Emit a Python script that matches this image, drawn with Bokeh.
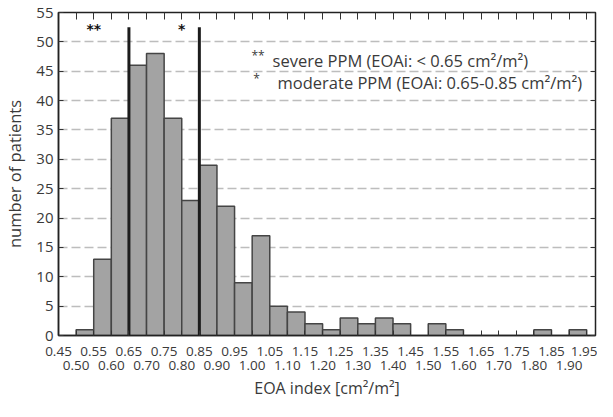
from bokeh.plotting import figure
from bokeh.models import Range1d, FixedTicker, LinearAxis, PrintfTickFormatter, Label, ColumnDataSource
from bokeh.core.properties import value
from bokeh.embed import file_html
from bokeh.resources import INLINE

# ---- data ----
bin_left = [0.45, 0.50, 0.55, 0.60, 0.65, 0.70, 0.75, 0.80, 0.85, 0.90,
            0.95, 1.00, 1.05, 1.10, 1.15, 1.20, 1.25, 1.30, 1.35, 1.40,
            1.45, 1.50, 1.55, 1.60, 1.65, 1.70, 1.75, 1.80, 1.85, 1.90]
counts = [0, 1, 13, 37, 46, 48, 37, 23, 29, 22,
          9, 17, 5, 4, 2, 1, 3, 2, 3, 2,
          0, 2, 1, 0, 0, 0, 0, 1, 0, 1]
bin_width = 0.05
thresholds = [0.65, 0.85]
threshold_top = 52.5
star_x = [0.55, 0.80]
star_text = ["**", "*"]
star_y = [52.2, 52.2]
legend_marks = ["**", "*"]
legend_mark_x = [0.998, 1.003]
legend_texts = ["severe PPM (EOAi: < 0.65 cm²/m²)",
                "moderate PPM (EOAi: 0.65-0.85 cm²/m²)"]
legend_text_x = [1.058, 1.072]
legend_y = [46.9, 43.1]
x_ticks_row1 = [0.45, 0.55, 0.65, 0.75, 0.85, 0.95, 1.05, 1.15, 1.25, 1.35, 1.45,
                1.55, 1.65, 1.75, 1.85, 1.95]
x_ticks_row2 = [0.50, 0.60, 0.70, 0.80, 0.90, 1.00, 1.10, 1.20, 1.30, 1.40, 1.50,
                1.60, 1.70, 1.80, 1.90]
y_ticks = [0, 5, 10, 15, 20, 25, 30, 35, 40, 45, 50, 55]

FONT = "Open Sans"
TXT = "#3a3a3a"

p = figure(width=597, height=401, output_backend="svg", toolbar_location=None,
           x_range=Range1d(0.45, 1.975), y_range=Range1d(0, 55),
           x_axis_location=None, y_axis_location=None,
           min_border_left=54, min_border_right=2, min_border_top=12, min_border_bottom=0)
p.outline_line_color = "#222222"
p.outline_line_width = 1.5
p.xgrid.visible = False
p.background_fill_color = "white"

# bars (skip empty bins)
src = ColumnDataSource(dict(
    left=[l for l, c in zip(bin_left, counts) if c > 0],
    right=[l + bin_width for l, c in zip(bin_left, counts) if c > 0],
    top=[c for c in counts if c > 0],
))
p.quad(left="left", right="right", top="top", bottom=0, source=src,
       fill_color="#a3a3a3", line_color="#454545", line_width=1.5)

# threshold lines
p.segment(x0=thresholds, y0=[0] * len(thresholds), x1=thresholds, y1=[threshold_top] * len(thresholds),
          line_color="#1c1c1c", line_width=3)

# asterisks above
p.text(x=star_x, y=star_y, text=star_text, text_font=value("DejaVu Sans"), text_font_style="bold",
       text_font_size="14px", text_align="center", text_baseline="middle", text_color="#111111")

# legend text
for m, mx, t, tx, yy in zip(legend_marks, legend_mark_x, legend_texts, legend_text_x, legend_y):
    p.add_layout(Label(x=mx, y=yy + 0.7, text=m, text_font=FONT, text_font_size="12px",
                       text_color=TXT, text_baseline="middle", text_align="left"))
    p.add_layout(Label(x=tx, y=yy, text=t, text_font=FONT, text_font_size="16.5px",
                       text_color=TXT, text_baseline="middle", text_align="left"))

# axes
yax = LinearAxis(ticker=FixedTicker(ticks=y_ticks), axis_label="number of patients")
yax.major_tick_in = 5
yax.major_tick_out = 0
yax.minor_tick_line_color = None
yax.major_label_standoff = 5
yax.major_label_text_font = FONT
yax.major_label_text_font_size = "15px"
yax.major_label_text_color = TXT
yax.axis_label_text_font = FONT
yax.axis_label_text_font_size = "16.5px"
yax.axis_label_text_font_style = "normal"
yax.axis_label_text_color = TXT
yax.axis_label_standoff = 7
yax.axis_line_color = "#222222"
yax.axis_line_width = 1.5
yax.major_tick_line_color = "#333333"
p.add_layout(yax, "left")

rax = LinearAxis(ticker=FixedTicker(ticks=y_ticks))
rax.major_tick_in = 5
rax.major_tick_out = 0
rax.minor_tick_line_color = None
rax.major_label_text_font_size = "1px"
rax.major_label_text_color = None
rax.major_label_standoff = 0
rax.axis_line_color = "#222222"
rax.major_tick_line_color = "#333333"
p.add_layout(rax, "right")

tax = LinearAxis(ticker=FixedTicker(ticks=sorted(x_ticks_row1 + x_ticks_row2)))
tax.major_tick_in = 7
tax.major_tick_out = 0
tax.minor_tick_line_color = None
tax.major_label_text_font_size = "1px"
tax.major_label_text_color = None
tax.major_label_standoff = 0
tax.axis_line_color = "#222222"
tax.major_tick_line_color = "#333333"
p.add_layout(tax, "above")

bax1 = LinearAxis(ticker=FixedTicker(ticks=x_ticks_row1, minor_ticks=x_ticks_row2),
                  formatter=PrintfTickFormatter(format="%.2f"))
bax1.major_tick_in = 5
bax1.major_tick_out = 0
bax1.minor_tick_in = 5
bax1.minor_tick_out = 0
bax1.major_label_standoff = 11
bax1.major_label_text_font = FONT
bax1.major_label_text_font_size = "13.5px"
bax1.major_label_text_color = TXT
bax1.axis_line_color = "#222222"
bax1.axis_line_width = 1.5
bax1.major_tick_line_color = "#333333"
bax1.minor_tick_line_color = "#333333"
p.add_layout(bax1, "below")

bax2 = LinearAxis(ticker=FixedTicker(ticks=x_ticks_row2),
                  formatter=PrintfTickFormatter(format="%.2f"),
                  axis_label="EOA index [cm²/m²]")
bax2.major_tick_in = 0
bax2.major_tick_out = 0
bax2.minor_tick_line_color = None
bax2.axis_line_color = None
bax2.major_label_standoff = 2
bax2.major_label_text_font = FONT
bax2.major_label_text_font_size = "13.5px"
bax2.major_label_text_color = TXT
bax2.axis_label_text_font = FONT
bax2.axis_label_text_font_size = "16px"
bax2.axis_label_text_font_style = "normal"
bax2.axis_label_text_color = TXT
bax2.axis_label_standoff = 4
p.add_layout(bax2, "below")

# horizontal dashed grid
p.ygrid.ticker = FixedTicker(ticks=y_ticks[1:-1])
p.ygrid.grid_line_color = "#bdbdbd"
p.ygrid.grid_line_dash = "9 4"
p.ygrid.grid_line_width = 1.5

open("out.html", "w").write(file_html(p, INLINE))
